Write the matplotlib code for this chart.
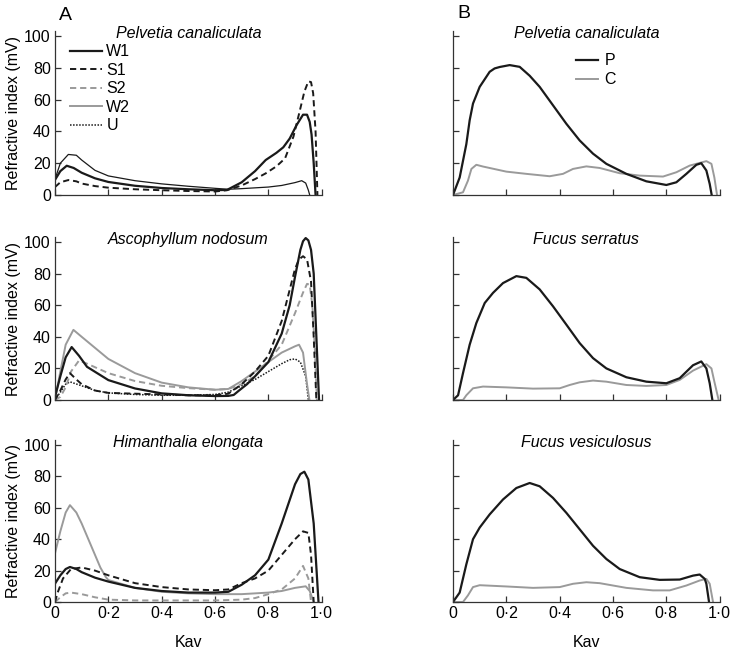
import numpy as np
import matplotlib
matplotlib.use("Agg")
import matplotlib.pyplot as plt
import matplotlib.transforms as mtransforms

plt.rcParams['font.family'] = ['Liberation Sans', 'DejaVu Sans']

# Panel A - Pelvetia canaliculata
pc_w1_x = [0, 0.02, 0.044, 0.07, 0.1, 0.15, 0.2, 0.3, 0.4, 0.5, 0.6, 0.645, 0.7, 0.75, 0.79, 0.83, 0.856, 0.88, 0.906, 0.93, 0.945, 0.955, 0.962, 0.97, 0.977]
pc_w1_y = [9.5, 15, 18.4, 17, 14, 10.5, 8.2, 5.8, 4.4, 3.6, 3, 3.2, 8, 15, 22, 26.5, 30, 35.5, 44, 50.5, 50.5, 46, 38, 20, 0]
pc_s1_x = [0, 0.02, 0.05, 0.08, 0.1, 0.15, 0.2, 0.3, 0.4, 0.5, 0.6, 0.645, 0.7, 0.75, 0.79, 0.83, 0.8625, 0.894, 0.915, 0.935, 0.95, 0.96, 0.968, 0.977, 0.984]
pc_s1_y = [5, 8, 9.4, 8.6, 7.2, 5.6, 4.6, 3.6, 3, 2.5, 2.2, 3, 6, 10, 13.6, 18, 23, 36.7, 51, 65, 71.5, 71, 64, 40, 0]
pc_w2_x = [0, 0.02, 0.05, 0.08, 0.1, 0.15, 0.2, 0.3, 0.4, 0.5, 0.6, 0.65, 0.7, 0.8, 0.85, 0.9, 0.925, 0.94, 0.95, 0.955]
pc_w2_y = [10, 20, 25.5, 25, 22, 15.5, 12, 9, 7, 5.5, 4.2, 3.6, 4, 5, 6, 7.8, 9, 7.5, 3, 0]

# Panel A - Ascophyllum nodosum
an_w1_x = [0, 0.02, 0.04, 0.0625, 0.09, 0.12, 0.2, 0.3, 0.4, 0.5, 0.6, 0.65, 0.67, 0.69, 0.72, 0.75, 0.8, 0.85, 0.88, 0.9, 0.92, 0.93, 0.94, 0.95, 0.96, 0.97, 0.98, 0.99]
an_w1_y = [2, 15, 27, 33.5, 28, 21, 12.6, 7.3, 4.2, 3, 2.5, 2.6, 3.2, 6, 10, 15, 24, 42, 60, 78, 95, 100.5, 102.5, 101, 95, 80, 40, 0]
an_s1_x = [0, 0.02, 0.04, 0.056, 0.08, 0.1, 0.15, 0.2, 0.3, 0.4, 0.5, 0.6, 0.65, 0.7, 0.75, 0.8, 0.85, 0.9, 0.915, 0.93, 0.945, 0.96, 0.97, 0.98]
an_s1_y = [0, 6, 13, 17, 13, 10, 6, 4.5, 4, 3.5, 3, 3, 4, 10, 18, 28, 50, 83, 89, 91, 89, 75, 40, 0]
an_s2_x = [0, 0.02, 0.04, 0.06, 0.09, 0.12, 0.2, 0.3, 0.4, 0.5, 0.6, 0.65, 0.7, 0.75, 0.8, 0.85, 0.9, 0.93, 0.945, 0.955, 0.965, 0.975, 0.982]
an_s2_y = [0, 2, 8, 18, 25, 23, 17, 12, 9, 7.5, 6.5, 7, 10, 15, 25, 35, 55, 68, 73.5, 73, 60, 30, 0]
an_w2_x = [0, 0.02, 0.04, 0.069, 0.1, 0.15, 0.2, 0.3, 0.4, 0.5, 0.6, 0.65, 0.7, 0.75, 0.8, 0.85, 0.9, 0.915, 0.93, 0.945, 0.954]
an_w2_y = [0, 18, 35, 44.4, 40, 33, 26, 17, 11, 8, 6.5, 7, 12, 18, 24, 30, 34, 35, 30, 10, 0]
an_u_x = [0, 0.02, 0.04, 0.056, 0.1, 0.15, 0.2, 0.3, 0.4, 0.5, 0.6, 0.65, 0.7, 0.75, 0.8, 0.85, 0.88, 0.9, 0.92, 0.94, 0.95]
an_u_y = [0, 5, 10, 11.5, 9, 6, 4.5, 3.5, 3, 3, 3.5, 5, 9, 13, 18, 23, 25.5, 26, 24, 15, 0]

# Panel A - Himanthalia elongata
he_w1_x = [0, 0.02, 0.04, 0.056, 0.08, 0.1, 0.15, 0.2, 0.3, 0.4, 0.5, 0.6, 0.65, 0.7, 0.75, 0.8, 0.85, 0.9, 0.92, 0.935, 0.95, 0.97, 0.988]
he_w1_y = [11.7, 17, 21, 22.3, 21, 19, 15.5, 13, 9, 7, 6, 6, 6.5, 11, 17, 27, 50, 75, 81.5, 83, 78, 50, 0]
he_s1_x = [0, 0.01, 0.03, 0.06, 0.1, 0.15, 0.2, 0.3, 0.4, 0.5, 0.6, 0.65, 0.7, 0.75, 0.8, 0.85, 0.9, 0.93, 0.95, 0.96, 0.97]
he_s1_y = [0, 6, 15, 21, 22, 20, 17, 12, 9.5, 8, 7.5, 8, 12, 15, 20, 30, 40, 45, 44, 30, 0]
he_s2_x = [0, 0.02, 0.04, 0.06, 0.1, 0.15, 0.2, 0.3, 0.4, 0.5, 0.6, 0.7, 0.75, 0.8, 0.85, 0.9, 0.93, 0.95, 0.96]
he_s2_y = [0, 3, 5.5, 6, 5, 3, 1.5, 1, 1, 1, 1, 1.5, 2.5, 5, 8, 15, 23, 15, 0]
he_w2_x = [0, 0.02, 0.04, 0.056, 0.08, 0.1, 0.13, 0.15, 0.17, 0.19, 0.2, 0.3, 0.4, 0.5, 0.6, 0.7, 0.8, 0.85, 0.9, 0.94, 0.955, 0.97]
he_w2_y = [31, 45, 57, 61.7, 57, 50, 38, 30, 22, 16, 14, 9, 6.5, 5.5, 5, 5, 6, 7, 9, 10, 7, 0]

# Panel B - Pelvetia canaliculata
pb_p_x = [0, 0.025, 0.05, 0.0625, 0.075, 0.1, 0.1375, 0.156, 0.175, 0.2125, 0.25, 0.2875, 0.325, 0.375, 0.425, 0.475, 0.525, 0.575, 0.65, 0.725, 0.8, 0.8375, 0.875, 0.9125, 0.931, 0.95, 0.9625, 0.97]
pb_p_y = [0, 11, 32, 47, 57.5, 68, 77.5, 79.6, 80.5, 81.7, 80.6, 75, 68, 56.4, 44.8, 34.3, 26, 19.6, 13.3, 8.6, 6.3, 8, 13.3, 19, 20, 15.4, 7, 0]
pb_c_x = [0, 0.0375, 0.056, 0.069, 0.0875, 0.1125, 0.2, 0.275, 0.3625, 0.4125, 0.45, 0.5, 0.55, 0.625, 0.7, 0.7875, 0.8375, 0.8875, 0.95, 0.969, 0.98, 0.99]
pb_c_y = [0, 1.7, 9, 16.4, 19, 17.9, 14.7, 13.3, 11.8, 13.3, 16.4, 18, 17, 13.7, 12.2, 11.6, 14.3, 18.5, 21.3, 19.6, 11, 0]

# Panel B - Fucus serratus
fs_p_x = [0, 0.019, 0.0375, 0.0625, 0.0875, 0.119, 0.15, 0.1875, 0.2375, 0.275, 0.325, 0.375, 0.425, 0.475, 0.525, 0.575, 0.65, 0.725, 0.8, 0.85, 0.9, 0.931, 0.95, 0.9625, 0.9725]
fs_p_y = [0, 3, 17, 35, 48.7, 61.4, 67.8, 74, 78.4, 77.3, 70, 59.3, 47.7, 36, 26.5, 20, 14.4, 11.6, 10.6, 13.8, 22, 24.4, 20, 10.6, 0]
fs_c_x = [0, 0.0375, 0.05, 0.075, 0.1125, 0.2, 0.3, 0.4, 0.4375, 0.475, 0.525, 0.575, 0.65, 0.725, 0.8, 0.85, 0.9, 0.95, 0.969, 0.98, 0.996]
fs_c_y = [0, 0, 3, 7.4, 8.5, 8, 7.2, 7.4, 9.5, 11.2, 12.3, 11.6, 9.5, 8.9, 9.5, 12.7, 18.6, 22.7, 20, 11.6, 0]

# Panel B - Fucus vesiculosus
fv_p_x = [0, 0.025, 0.05, 0.075, 0.1, 0.1375, 0.1875, 0.2375, 0.2875, 0.325, 0.375, 0.425, 0.475, 0.525, 0.575, 0.625, 0.7, 0.775, 0.85, 0.9, 0.925, 0.944, 0.95, 0.96]
fv_p_y = [0, 6, 24, 40, 47.4, 55.8, 65.3, 72.6, 75.8, 73.7, 66.3, 56.8, 46.3, 35.8, 27.4, 21, 15.8, 14.1, 14.3, 16.8, 17.5, 14.7, 11.6, 0]
fv_c_x = [0, 0.0375, 0.056, 0.075, 0.1, 0.2, 0.3, 0.4, 0.45, 0.5, 0.55, 0.65, 0.75, 0.8125, 0.875, 0.925, 0.95, 0.9625, 0.975]
fv_c_y = [0, 0, 4.2, 9.5, 10.7, 9.9, 9, 9.5, 11.6, 12.6, 12, 9, 7.4, 7.4, 10.5, 13.7, 14.7, 11.6, 0]

xtick_vals = [0, 0.2, 0.4, 0.6, 0.8, 1.0]
xtick_labels = ["0", "0·2", "0·4", "0·6", "0·8", "1·0"]
ytick_vals = [0, 20, 40, 60, 80, 100]

BLACK = "#1a1a1a"
GREY = "#9a9a9a"
FS = 11.5

styles = {
    "W1": dict(color=BLACK, lw=1.6, ls="-"),
    "S1": dict(color=BLACK, lw=1.4, dashes=(3.2, 2.0)),
    "S2": dict(color=GREY, lw=1.4, dashes=(3.2, 2.0)),
    "W2": dict(color=GREY, lw=1.4, ls="-"),
    "U": dict(color=BLACK, lw=1.1, dashes=(1, 1)),
}

fig = plt.figure(figsize=(7.32, 6.54), dpi=100)

lefts = [55 / 732, 453 / 732]
width = 266.7 / 732
rows = [(195, 159), (400, 158), (602, 157)]  # baseline px, px per 100
YTOP = 103

axes = []
for base, scale in rows:
    h = scale * YTOP / 100
    axes.append([fig.add_axes([lefts[c], 1 - base / 654, width, h / 654]) for c in range(2)])


def style_axis(ax, left_col, bottom_row):
    ax.set_xlim(0, 1.0)
    ax.set_ylim(0, YTOP)
    for s in ["top", "right"]:
        ax.spines[s].set_visible(False)
    for s in ["left", "bottom"]:
        ax.spines[s].set_linewidth(0.9)
        ax.spines[s].set_color("#333333")
    ax.set_xticks(xtick_vals)
    ax.set_yticks(ytick_vals)
    ax.tick_params(direction="in", length=4, width=0.9, color="#333333",
                   labelsize=FS, pad=3)
    if bottom_row:
        ax.set_xticklabels(xtick_labels)
        ax.set_xlabel("Kav", fontsize=FS, labelpad=10)
    else:
        ax.set_xticklabels([])
    if left_col:
        ax.set_ylabel("Refractive index (mV)", fontsize=FS, labelpad=2)
    else:
        ax.set_yticklabels([])
    ax.patch.set_alpha(0)


# Left column
ax = axes[0][0]
ax.plot(pc_w1_x, pc_w1_y, label="W1", **styles["W1"])
ax.plot(pc_s1_x, pc_s1_y, label="S1", **styles["S1"])
ax.plot(pc_w2_x, pc_w2_y, color=BLACK, lw=0.9)
ax.plot([], [], label="S2", **styles["S2"])
ax.plot([], [], label="W2", **styles["W2"])
ax.plot([], [], label="U", **styles["U"])
h, l = ax.get_legend_handles_labels()
order = ["W1", "S1", "S2", "W2", "U"]
hh = [h[l.index(k)] for k in order]
ax.legend(hh, order, loc="upper left", bbox_to_anchor=(0.055, 0.92), frameon=False,
          fontsize=FS, handlelength=2.0, handletextpad=0.3, labelspacing=0.22,
          borderaxespad=0, borderpad=0)

ax = axes[1][0]
ax.plot(an_u_x, an_u_y, **styles["U"])
ax.plot(an_s2_x, an_s2_y, **styles["S2"])
ax.plot(an_w2_x, an_w2_y, **styles["W2"])
ax.plot(an_s1_x, an_s1_y, **styles["S1"])
ax.plot(an_w1_x, an_w1_y, **styles["W1"])

ax = axes[2][0]
ax.plot(he_s2_x, he_s2_y, **styles["S2"])
ax.plot(he_w2_x, he_w2_y, **styles["W2"])
ax.plot(he_s1_x, he_s1_y, **styles["S1"])
ax.plot(he_w1_x, he_w1_y, **styles["W1"])

# Right column
b_data = [(pb_p_x, pb_p_y, pb_c_x, pb_c_y),
          (fs_p_x, fs_p_y, fs_c_x, fs_c_y),
          (fv_p_x, fv_p_y, fv_c_x, fv_c_y)]
for r, (px, py, cx, cy) in enumerate(b_data):
    ax = axes[r][1]
    ax.plot(cx, cy, color=GREY, lw=1.4, label="C")
    ax.plot(px, py, color=BLACK, lw=1.6, label="P")

h, l = axes[0][1].get_legend_handles_labels()
axes[0][1].legend([h[1], h[0]], ["P", "C"], loc="upper left", bbox_to_anchor=(0.46, 0.865),
                  frameon=False, fontsize=FS, handlelength=1.4, handletextpad=0.4,
                  labelspacing=0.25, borderaxespad=0, borderpad=0)

titles = [["Pelvetia canaliculata", "Pelvetia canaliculata"],
          ["Ascophyllum nodosum", "Fucus serratus"],
          ["Himanthalia elongata", "Fucus vesiculosus"]]
for r in range(3):
    for c in range(2):
        ax = axes[r][c]
        style_axis(ax, c == 0, r == 2)
        trans = mtransforms.blended_transform_factory(ax.transAxes, ax.transData)
        ax.text(0.5, 101.5, titles[r][c], transform=trans,
                ha="center", va="center", fontsize=FS, style="italic")

fig.text(59 / 732, 1 - 15 / 654, "A", fontsize=14, ha="left", va="center")
fig.text(457 / 732, 1 - 13 / 654, "B", fontsize=14, ha="left", va="center")

fig.savefig("out.png", dpi=100)
